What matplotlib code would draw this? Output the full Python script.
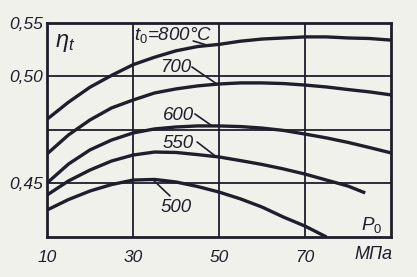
import numpy as np
import matplotlib
matplotlib.use("Agg")
import matplotlib.pyplot as plt
from matplotlib import font_manager

# pressure p0, MPa
p = [10, 15, 20, 25, 30, 35, 40, 45, 50, 55, 60, 65, 70, 75, 80, 85, 90]

# thermal efficiency eta_t, one list per t0
eta_800 = [0.480, 0.488, 0.495, 0.501, 0.511, 0.518, 0.524, 0.528, 0.530,
           0.533, 0.535, 0.536, 0.537, 0.537, 0.536, 0.5355, 0.534]
eta_700 = [0.4638, 0.4727, 0.4797, 0.4853, 0.4890, 0.4923, 0.4942, 0.4956,
           0.4965, 0.4970, 0.4970, 0.4967, 0.4960, 0.4951, 0.4939, 0.4928, 0.4914]
eta_600 = [0.4502, 0.4591, 0.4657, 0.4703, 0.4736, 0.4755, 0.4764, 0.4769,
           0.4769, 0.4766, 0.4759, 0.4748, 0.4731, 0.4713, 0.4692, 0.4668, 0.4643]
p_550 = [10, 15, 20, 25, 30, 35, 40, 45, 50, 55, 60, 65, 70, 75, 80, 84]
eta_550 = [0.4446, 0.4512, 0.4563, 0.4605, 0.4633, 0.4647, 0.4645, 0.4635,
           0.4624, 0.4607, 0.4589, 0.4568, 0.4544, 0.4516, 0.4488, 0.4456]
p_500 = [10, 15, 20, 25, 30, 35, 40, 45, 50, 55, 60, 65, 70, 75]
eta_500 = [0.4376, 0.4425, 0.4465, 0.4495, 0.4516, 0.4519, 0.4507, 0.4486,
           0.4460, 0.4428, 0.4390, 0.4343, 0.4301, 0.4250]

x_ticks = [10, 30, 50, 70]
y_ticks = [0.45, 0.475, 0.50, 0.55]
y_labels = ['0,45', '', '0,50', '0,55']

# the original axis is not linear: 0.55-0.50 takes one grid step, 0.50-0.45 two
y_knots = [0.0, 0.425, 0.45, 0.475, 0.50, 0.55, 1.0]
g_knots = [-17.0, 0.0, 1.0, 2.0, 3.0, 4.0, 13.0]

def fwd(y):
    return np.interp(y, y_knots, g_knots)

def inv(g):
    return np.interp(g, g_knots, y_knots)

names = {f.name for f in font_manager.fontManager.ttflist}
fam = 'Liberation Sans'
for cand in ['Liberation Sans Narrow', 'Liberation Sans', 'DejaVu Sans']:
    if cand in names:
        fam = cand
        break
plt.rcParams['font.family'] = [fam, 'DejaVu Sans']
plt.rcParams['mathtext.fontset'] = 'custom'
plt.rcParams['mathtext.rm'] = fam
plt.rcParams['mathtext.it'] = fam + ':italic'

ink = '#1e1e2c'
paper = '#f1f1ec'

fig = plt.figure(figsize=(4.17, 2.77), dpi=100, facecolor=paper)
ax = fig.add_axes([0.1127, 0.1444, 0.825, 0.7726])
ax.set_facecolor(paper)
ax.set_yscale('function', functions=(fwd, inv))

for xs, ys in [(p, eta_800), (p, eta_700), (p, eta_600), (p_550, eta_550), (p_500, eta_500)]:
    ax.plot(xs, ys, color=ink, lw=2.4, solid_capstyle='butt', solid_joinstyle='round')

ax.set_xlim(10, 90)
ax.set_ylim(0.425, 0.55)
ax.set_xticks(x_ticks)
ax.set_xticklabels([str(v) for v in x_ticks])
ax.set_yticks(y_ticks)
ax.set_yticklabels(y_labels)
ax.tick_params(length=0, labelsize=12.5, colors=ink)
ax.tick_params(axis='x', pad=9)
ax.tick_params(axis='y', pad=3)
for lab in ax.get_xticklabels() + ax.get_yticklabels():
    lab.set_fontstyle('italic')
ax.grid(True, color=ink, lw=1.3)
ax.set_axisbelow(True)
for s in ax.spines.values():
    s.set_color(ink)
    s.set_linewidth(2.0)

tk = dict(color=ink, fontsize=13.5, style='italic', ha='center', va='center')
ax.text(39.3, 0.5388, r'$t_0$=800°C', **tk)
ax.text(39.8, 0.5080, '700', **tk)
ax.text(40.5, 0.4820, '600', **tk)
ax.text(40.5, 0.4689, '550', **tk)
ax.text(40.0, 0.4390, '500', **tk)
ax.text(85.6, 0.4306, r'$P_0$', **tk)
ax.text(0.023, 0.958, r'$\eta_t$', transform=ax.transAxes, color=ink,
        fontsize=17, ha='left', va='top')
ax.text(0.95, -0.084, 'МПа', transform=ax.transAxes, color=ink,
        fontsize=13, style='italic', ha='center', va='center')

lead = dict(arrowstyle='-', color=ink, lw=1.2, shrinkA=0, shrinkB=0)
ax.annotate('', xy=(47.9, 0.5285), xytext=(44.0, 0.5332), arrowprops=lead)
ax.annotate('', xy=(49.5, 0.4965), xytext=(43.7, 0.5089), arrowprops=lead)
ax.annotate('', xy=(48.4, 0.4769), xytext=(44.4, 0.4825), arrowprops=lead)
ax.annotate('', xy=(49.3, 0.4626), xytext=(44.9, 0.4694), arrowprops=lead)
ax.annotate('', xy=(34.6, 0.4518), xytext=(38.6, 0.4442), arrowprops=lead)

fig.savefig('out.png', dpi=100, facecolor=paper)
